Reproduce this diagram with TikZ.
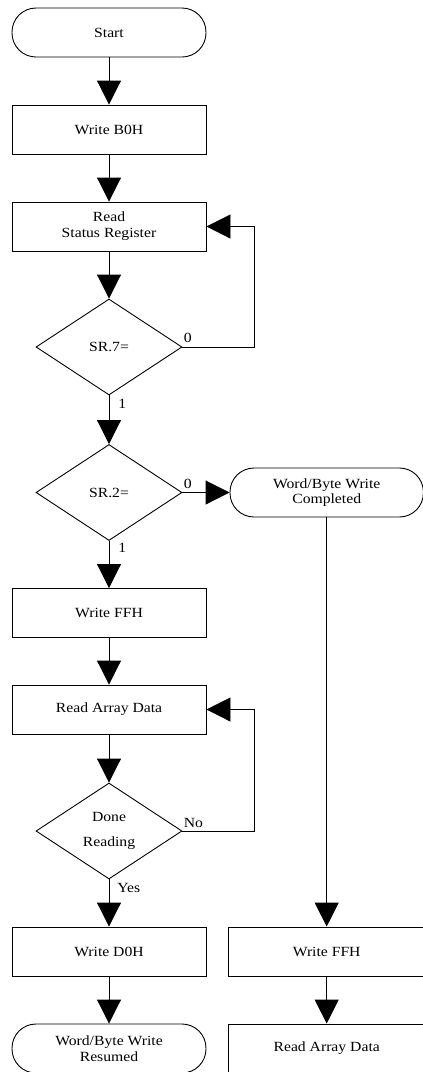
\documentclass[tikz,border=0pt]{standalone}
\usepackage{fontspec}
\setmainfont{Liberation Serif}[FakeStretch=1.12]
\usetikzlibrary{shapes.geometric,arrows.meta,calc}
\begin{document}
\begin{tikzpicture}[x=1pt,y=-1pt,
  font=\fontsize{14}{15.5}\selectfont,
  line width=0.9pt,
  proc/.style={draw, rectangle, minimum width=194pt, minimum height=49pt, inner sep=0pt, align=center},
  term/.style={draw, rectangle, rounded corners=24pt, minimum width=194pt, minimum height=49pt, inner sep=0pt, align=center},
  dec/.style={draw, diamond, aspect=1.52, minimum width=146pt, minimum height=96pt, inner sep=0pt, align=center},
  flow/.style={-{Triangle[length=24pt,width=24pt]}},
  lab/.style={inner sep=0pt, anchor=base west}
]
\useasboundingbox (0,0) rectangle (423,1072);
\clip (0,0) rectangle (423,1072);

% left column
\node[term] (start) at (109,32.5) {Start};
\node[proc] (wb0) at (109,129.5) {Write B0H};
\node[proc] (rsr) at (109,226.5) {Read\\[0.5pt]Status Register};
\node[dec]  (d1)  at (109,347) {SR.7=};
\node[dec]  (d2)  at (109,492.5) {SR.2=};
\node[proc] (wff) at (109,613) {Write FFH};
\node[proc] (rad) at (109,709.5) {Read Array Data};
\node[dec]  (d3)  at (109,831) {Done\\[9pt]Reading};
\node[proc] (wd0) at (109,951.5) {Write D0H};
\node[term] (res) at (109,1048.5) {Word/Byte Write\\Resumed};

% right column
\node[term, minimum width=193.4pt] (cmp) at (326.7,492.5) {Word/Byte Write\\Completed};
\node[proc, minimum width=196pt] (rwff) at (326.7,951.5) {Write FFH};
\node[proc, minimum width=196pt] (rrad) at (326.7,1048.5) {Read Array Data};

% connectors
\draw[flow] (start) -- (wb0);
\draw[flow] (wb0) -- (rsr);
\draw[flow] (rsr) -- (d1);
\draw[flow] (d1) -- (d2);
\draw[flow] (d2) -- (wff);
\draw[flow] (wff) -- (rad);
\draw[flow] (rad) -- (d3);
\draw[flow] (d3) -- (wd0);
\draw[flow] (wd0) -- (res);
\draw[flow] (d1.east) -- ++(72,0) |- (rsr.east);
\draw[flow] (d3.east) -- ++(72,0) |- (rad.east);
\draw[flow] (d2.east) -- (cmp.west);
\draw[flow] (cmp) -- (rwff);
\draw[flow] (rwff) -- (rrad);

% labels
\node[lab] (l0a) at ($(d1.east)+(1,-5)$) {0};
\node[lab] (l1a) at ($(d1.south)+(9,13)$) {1};
\node[lab] (l0b) at ($(d2.east)+(1,-4.5)$) {0};
\node[lab] (l1b) at ($(d2.south)+(9,12)$) {1};
\node[lab] (lno) at ($(d3.east)+(1,-4)$) {No};
\node[lab] (lye) at ($(d3.south)+(8,13)$) {Yes};
\end{tikzpicture}
\end{document}
